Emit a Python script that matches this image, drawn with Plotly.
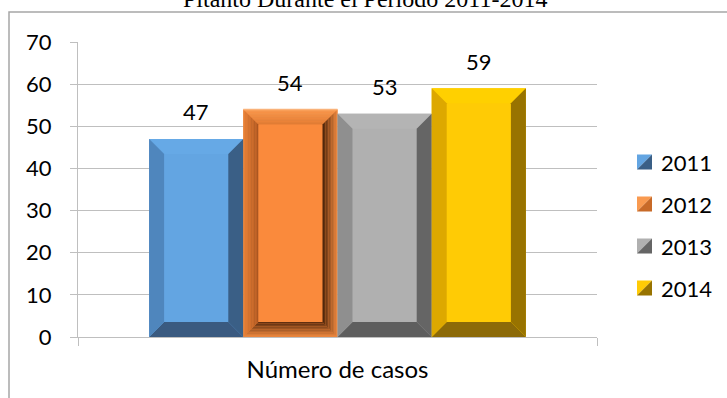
import plotly.graph_objects as go

# ---- data ----
category = "Número de casos"
years = ["2011", "2012", "2013", "2014"]
cases = [47, 54, 53, 59]
y_ticks = [0, 10, 20, 30, 40, 50, 60, 70]
title_text = "Pitanto Durante el Periodo 2011-2014"

# facet colours per series: front, top, left, right, bottom
palette = {
    "2011": dict(front="#63A5E2", top="#66A9E6", left="#4F86BD", right="#3A5F86", bottom="#3A5A80"),
    "2012": dict(front="#FA8A3C", top="#F99A50", left="#E98238", right="#F08A40", bottom="#F08A40"),
    "2013": dict(front="#B0B0B0", top="#B4B4B4", left="#8F8F8F", right="#656565", bottom="#5E5E5E"),
    "2014": dict(front="#FFCB05", top="#FFD000", left="#DDA800", right="#987300", bottom="#8C6A08"),
}
# inner (deep) colours for the soft rounded bevel of the 2012 bar
soft_inner = {"2012": dict(top="#E07A32", left="#A85420", right="#4A2208", bottom="#5A2A0C")}

W, H = 727, 398
ML, MR, MT, MB = 78, 130, 42, 61
PW, PH = W - ML - MR, H - MT - MB
X_RANGE = (-0.5, 0.5)
Y_RANGE = (0, 70)
BARGAP = 0.274
BEVEL_PX = 15

FONT = "Lato"
GRID = "#BFBFBF"

px_x = (X_RANGE[1] - X_RANGE[0]) / PW   # data units per pixel
px_y = (Y_RANGE[1] - Y_RANGE[0]) / PH


def px_to_paper(xp, yp):
    return (xp - ML) / PW, (H - MB - yp) / PH


def mix(c1, c2, t):
    a = [int(c1[i:i + 2], 16) for i in (1, 3, 5)]
    b = [int(c2[i:i + 2], 16) for i in (1, 3, 5)]
    return "#%02X%02X%02X" % tuple(round(a[k] + (b[k] - a[k]) * t) for k in range(3))


def poly(xs, ys, color):
    return go.Scatter(x=xs + [xs[0]], y=ys + [ys[0]], mode="lines", fill="toself",
                      fillcolor=color, line=dict(width=0, color=color),
                      hoverinfo="skip", showlegend=False)


def bevel_traces(x0, x1, top, cols, inner=None, bands=1):
    """Four bevel facets (top, left, right, bottom) drawn as bands of polygons."""
    out = []
    for k in range(bands):
        a = k / bands
        b = (k + 1) / bands
        t = (k + 0.5) / bands
        ax, bx = a * BEVEL_PX * px_x, b * BEVEL_PX * px_x
        ay, by = a * BEVEL_PX * px_y, b * BEVEL_PX * px_y

        def c(name):
            return mix(cols[name], inner[name], t) if inner else cols[name]

        # top
        out.append(poly([x0 + ax, x1 - ax, x1 - bx, x0 + bx],
                        [top - ay, top - ay, top - by, top - by], c("top")))
        # bottom
        out.append(poly([x0 + ax, x1 - ax, x1 - bx, x0 + bx],
                        [ay, ay, by, by], c("bottom")))
        # left
        out.append(poly([x0 + ax, x0 + ax, x0 + bx, x0 + bx],
                        [ay, top - ay, top - by, by], c("left")))
        # right
        out.append(poly([x1 - ax, x1 - ax, x1 - bx, x1 - bx],
                        [ay, top - ay, top - by, by], c("right")))
    return out


fig = go.Figure()

group_w = 1 - BARGAP
bar_w = group_w / len(years)
annotations = []
for i, (yr, v) in enumerate(zip(years, cases)):
    cols = palette[yr]
    left = -group_w / 2 + i * bar_w
    fig.add_trace(go.Bar(x=[0], y=[v], width=bar_w, offset=left, name=yr,
                         marker=dict(color=cols["front"], line=dict(width=0)),
                         showlegend=False, hoverinfo="name+y"))
    if yr in soft_inner:
        for tr in bevel_traces(left, left + bar_w, v, cols, soft_inner[yr], bands=10):
            fig.add_trace(tr)
        # thin light rim along the top of the rounded bar
        fig.add_trace(go.Scatter(x=[left, left + bar_w], y=[v, v], mode="lines",
                                 line=dict(color="#F9B27A", width=1.5),
                                 hoverinfo="skip", showlegend=False))
    else:
        for tr in bevel_traces(left, left + bar_w, v, cols):
            fig.add_trace(tr)
    annotations.append(dict(x=left + bar_w / 2, y=v, xref="x", yref="y", text=str(v),
                            showarrow=False, yanchor="middle", yshift=27,
                            font=dict(family=FONT, size=22, color="#000000")))

# title, partly above the top edge of the page
tx, ty = px_to_paper(365, -1)
annotations.append(dict(x=tx, y=ty, xref="paper", yref="paper", text=title_text,
                        showarrow=False, xanchor="center", yanchor="middle",
                        font=dict(family="Liberation Serif", size=24, color="#000000")))

# legend: split squares with a lighter and a darker half
shapes = []
leg_rows = [162, 204, 246, 288]
for yr, row in zip(years, leg_rows):
    cols = palette[yr]
    xa, ya = px_to_paper(637, row - 7.5)
    xb, yb = px_to_paper(652, row + 7.5)
    shapes.append(dict(type="path", xref="paper", yref="paper",
                       path=f"M {xa} {ya} L {xb} {ya} L {xa} {yb} Z",
                       fillcolor=cols["front"] if yr != "2012" else "#F99A50", line=dict(width=0)))
    shapes.append(dict(type="path", xref="paper", yref="paper",
                       path=f"M {xb} {ya} L {xb} {yb} L {xa} {yb} Z",
                       fillcolor=cols["right"] if yr != "2012" else "#C86A28", line=dict(width=0)))
    lx, ly = px_to_paper(659, row)
    annotations.append(dict(x=lx, y=ly, xref="paper", yref="paper", text=yr,
                            showarrow=False, xanchor="left", yanchor="middle",
                            font=dict(family=FONT, size=22, color="#000000")))

# outer chart frame
fx0, fy0 = px_to_paper(9, 12)
fx1, fy1 = px_to_paper(760, 430)
shapes.append(dict(type="rect", xref="paper", yref="paper", x0=fx0, y0=fy1, x1=fx1, y1=fy0,
                   line=dict(color="#A6A6A6", width=1.5), fillcolor="rgba(0,0,0,0)", layer="below"))

fig.update_layout(
    width=W, height=H,
    margin=dict(l=ML, r=MR, t=MT, b=MB, pad=0),
    paper_bgcolor="#FFFFFF", plot_bgcolor="#FFFFFF",
    barmode="overlay",
    showlegend=False,
    annotations=annotations,
    shapes=shapes,
    font=dict(family=FONT, size=22, color="#000000"),
    xaxis=dict(range=list(X_RANGE), tickvals=[0], ticktext=[category], ticks="",
               showgrid=False, zeroline=False, showline=True, linecolor=GRID, linewidth=1,
               ticklabelstandoff=11, tickfont=dict(family=FONT, size=24),
               minor=dict(tickvals=[X_RANGE[0], X_RANGE[1]], ticks="outside",
                          ticklen=8, tickcolor=GRID, showgrid=False),
               fixedrange=True),
    yaxis=dict(range=list(Y_RANGE), tickvals=y_ticks, ticks="outside", ticklen=7,
               tickcolor=GRID, showgrid=True, gridcolor=GRID, gridwidth=1,
               zeroline=False, showline=True, linecolor=GRID, linewidth=1,
               ticklabelstandoff=14, tickfont=dict(family=FONT, size=22),
               fixedrange=True),
)

fig.write_html("out.html")
